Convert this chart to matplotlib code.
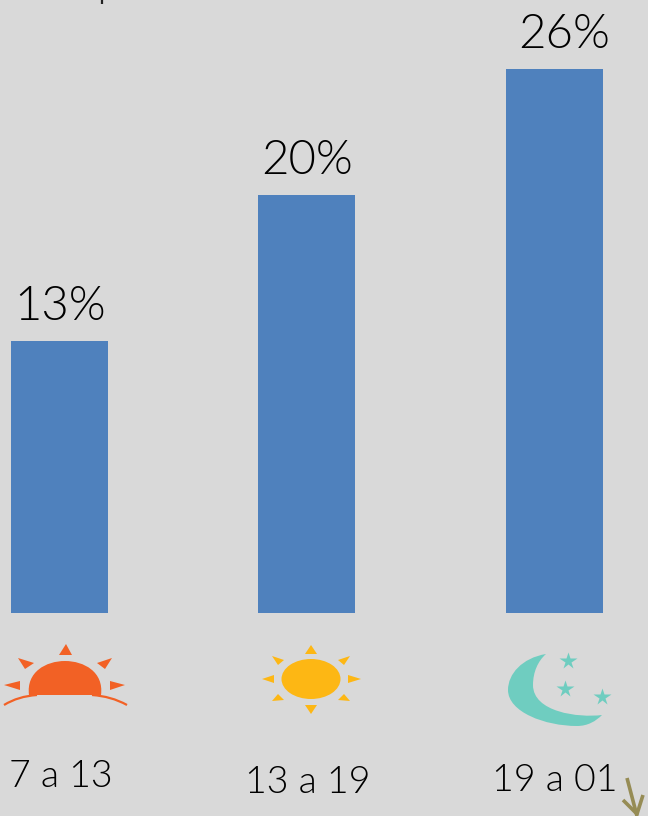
import matplotlib
matplotlib.use("Agg")
import matplotlib.pyplot as plt
from matplotlib.patches import Ellipse, Polygon, PathPatch
from matplotlib.path import Path

# Datos
horarios = ['7 a 13', '13 a 19', '19 a 01']
valores = [13, 20, 26]
etiquetas = ['13%', '20%', '26%']

fondo = '#D9D9D9'
azul = '#4F81BD'
naranja = '#F26125'
amarillo = '#FDB714'
turquesa = '#6FCDC0'
oliva = '#968C55'
fuente = 'Lato'
peso = 300

fig = plt.figure(figsize=(6.48, 8.16), dpi=100, facecolor=fondo)

# Ejes de las barras: escala elegida para que la base caiga en y=613 px
ax = fig.add_axes([0, 0, 1, 1], facecolor='none')
px_x = 247.25
px_y = 20.92
ax.set_xlim(-59.5 / px_x, (648 - 59.5) / px_x)
ax.set_ylim(-(816 - 613) / px_y, 613 / px_y)
ax.axis('off')

pos = range(len(valores))
ax.bar(pos, valores, width=97 / px_x, color=azul)
# el 26% esta algo corrido a la derecha en el original
desplaza = [1, 0, 10]
for p, v, t, d in zip(pos, valores, etiquetas, desplaza):
    ax.annotate(t, (p, v), xytext=(d, 13), textcoords='offset pixels', ha='center',
                va='bottom', fontsize=34, family=fuente, weight=peso, color='black')

# Capa en pixeles para los iconos y las etiquetas de abajo
capa = fig.add_axes([0, 0, 1, 1], facecolor='none')
capa.set_xlim(0, 648)
capa.set_ylim(816, 0)
capa.axis('off')

etiqueta_x = [61, 308, 555]
etiqueta_y = [777, 783, 781]
for x, y, t in zip(etiqueta_x, etiqueta_y, horarios):
    capa.text(x, y, t, ha='center', va='center', fontsize=27, family=fuente,
              weight=peso, color='black')

# Sol naciente
domo = Path([(29, 695), (26, 672), (46, 661), (65, 661), (84, 661), (104, 672), (101, 695), (29, 695)],
            [Path.MOVETO, Path.CURVE4, Path.CURVE4, Path.CURVE4, Path.CURVE4, Path.CURVE4, Path.CURVE4, Path.CLOSEPOLY])
capa.add_patch(PathPatch(domo, fc=naranja, ec='none'))
for curva in ([(4, 705), (14, 699), (24, 696), (37, 695)], [(92, 695), (105, 696), (116, 699), (127, 705)]):
    capa.add_patch(PathPatch(Path(curva, [Path.MOVETO, Path.CURVE4, Path.CURVE4, Path.CURVE4]),
                             fc='none', ec=naranja, lw=1.6))
rayos_naranja = [
    [(66, 644), (59, 655), (72, 655)],
    [(18, 658), (34, 663), (25, 669)],
    [(112, 658), (97, 663), (105, 669)],
    [(4, 685), (20, 681), (20, 690)],
    [(125, 685), (110, 681), (110, 690)],
]
for r in rayos_naranja:
    capa.add_patch(Polygon(r, fc=naranja, ec='none'))

# Sol
capa.add_patch(Ellipse((311, 679), 59, 40, fc=amarillo, ec='none'))
rayos_amarillo = [
    [(311, 645), (305, 654), (317, 654)],
    [(311, 714), (305, 705), (317, 705)],
    [(262, 679), (274, 675), (274, 683)],
    [(361, 679), (348, 675), (348, 683)],
    [(272, 656), (284, 660), (278, 665)],
    [(350, 656), (338, 660), (344, 665)],
    [(272, 701), (284, 700), (278, 694)],
    [(350, 701), (338, 700), (344, 694)],
]
for r in rayos_amarillo:
    capa.add_patch(Polygon(r, fc=amarillo, ec='none'))

# Luna y estrellas
luna = Path([(546, 654), (522, 658), (508, 674), (508, 690),
             (508, 712), (545, 726), (577, 726),
             (588, 726), (596, 721), (602, 715),
             (578, 718), (533, 712), (533, 685),
             (533, 672), (538, 661), (546, 654), (546, 654)],
            [Path.MOVETO] + [Path.CURVE4] * 15 + [Path.CLOSEPOLY])
capa.add_patch(PathPatch(luna, fc=turquesa, ec='none'))
capa.plot([568, 565, 602], [661, 689, 697], ls='none', marker='*', ms=13, mfc=turquesa, mec='none')

# Restos del original: flecha y marca superior
capa.plot([627, 637], [778, 816], color=oliva, lw=2.6, solid_capstyle='butt')
capa.plot([623, 637, 643], [800, 814, 795], color=oliva, lw=2.6, solid_capstyle='butt')
capa.plot([101.5, 101.5], [0, 3.5], color='#222222', lw=1.6, solid_capstyle='butt')

fig.savefig('out.png', dpi=100, facecolor=fondo)
